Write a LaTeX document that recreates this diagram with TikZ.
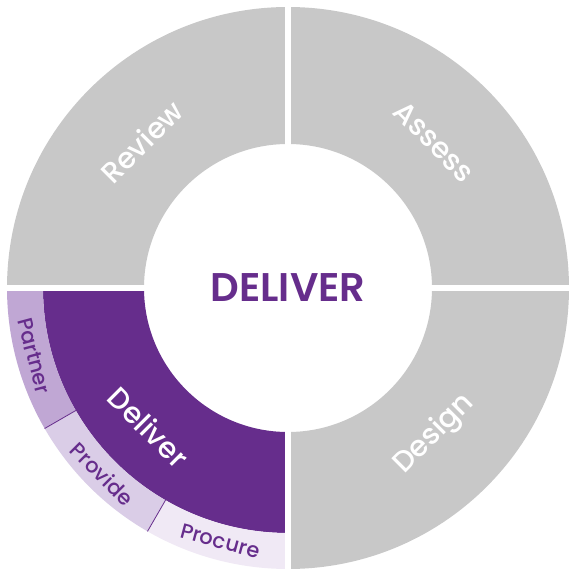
\documentclass[tikz,border=0pt]{standalone}
\usepackage{fontspec}
\setmainfont{Poppins}
\newfontfamily\ringfont{Poppins}[UprightFont={* Medium}, BoldFont={* SemiBold}]
\usetikzlibrary{positioning}
\definecolor{ringgrey}{HTML}{C8C8C8}
\definecolor{deliverpurple}{HTML}{662D8C}
\definecolor{partnerlilac}{HTML}{C0A7D4}
\definecolor{providelilac}{HTML}{DACDE7}
\definecolor{procurelilac}{HTML}{F0E9F5}

\begin{document}
\begin{tikzpicture}[x=1pt,y=1pt]
		\tikzstyle{phase} = [text=white, inner sep=0pt, font=\ringfont\fontsize{29}{29}\selectfont]
		\tikzstyle{substep} = [text=deliverpurple, inner sep=0pt, font=\ringfont\fontsize{21}{21}\selectfont]
		\tikzstyle{divider} = [deliverpurple, line width=0.8pt]
		\useasboundingbox (-288,-288) rectangle (288,288);
		% quadrants of the ring
		\fill[ringgrey] (90:144) arc (90:180:144) -- (180:281) arc (180:90:281) -- cycle;
		\fill[ringgrey] (0:144) arc (0:90:144) -- (90:281) arc (90:0:281) -- cycle;
		\fill[ringgrey] (270:144) arc (270:360:144) -- (0:281) arc (360:270:281) -- cycle;
		\fill[deliverpurple] (180:144) arc (180:270:144) -- (270:245) arc (270:180:245) -- cycle;
		% outer band of the deliver quadrant
		\fill[partnerlilac] (180:245) arc (180:210:245) -- (210:281) arc (210:180:281) -- cycle;
		\fill[providelilac] (210:245) arc (210:240:245) -- (240:281) arc (240:210:281) -- cycle;
		\fill[procurelilac] (240:245) arc (240:270:245) -- (270:281) arc (270:240:281) -- cycle;
		\draw[divider] (210:245) -- (210:281);
		\draw[divider] (240:245) -- (240:281);
		% white cross between quadrants
		\draw[white, line width=6.5pt] (-290,0) -- (290,0);
		\draw[white, line width=6.5pt] (0,-290) -- (0,290);
		\node (hub) at (0,0) {\ringfont\fontsize{40}{40}\selectfont\bfseries\color{deliverpurple}DELIVER};
		\node (review) [phase, rotate=45] at (135:207) {Review};
		\node (assess) [phase, rotate=-45] at (45:207) {Assess};
		\node (design) [phase, rotate=45] at (-45:207) {Design};
		\node (deliver) [phase, rotate=-45] at (225:197) {Deliver};
		\node (partner) [substep, rotate=-75] at (195:263) {Partner};
		\node (provide) [substep, rotate=-45] at (225:263) {Provide};
		\node (procure) [substep, rotate=-15] at (255:262) {Procure};
		\end{tikzpicture}
\end{document}
